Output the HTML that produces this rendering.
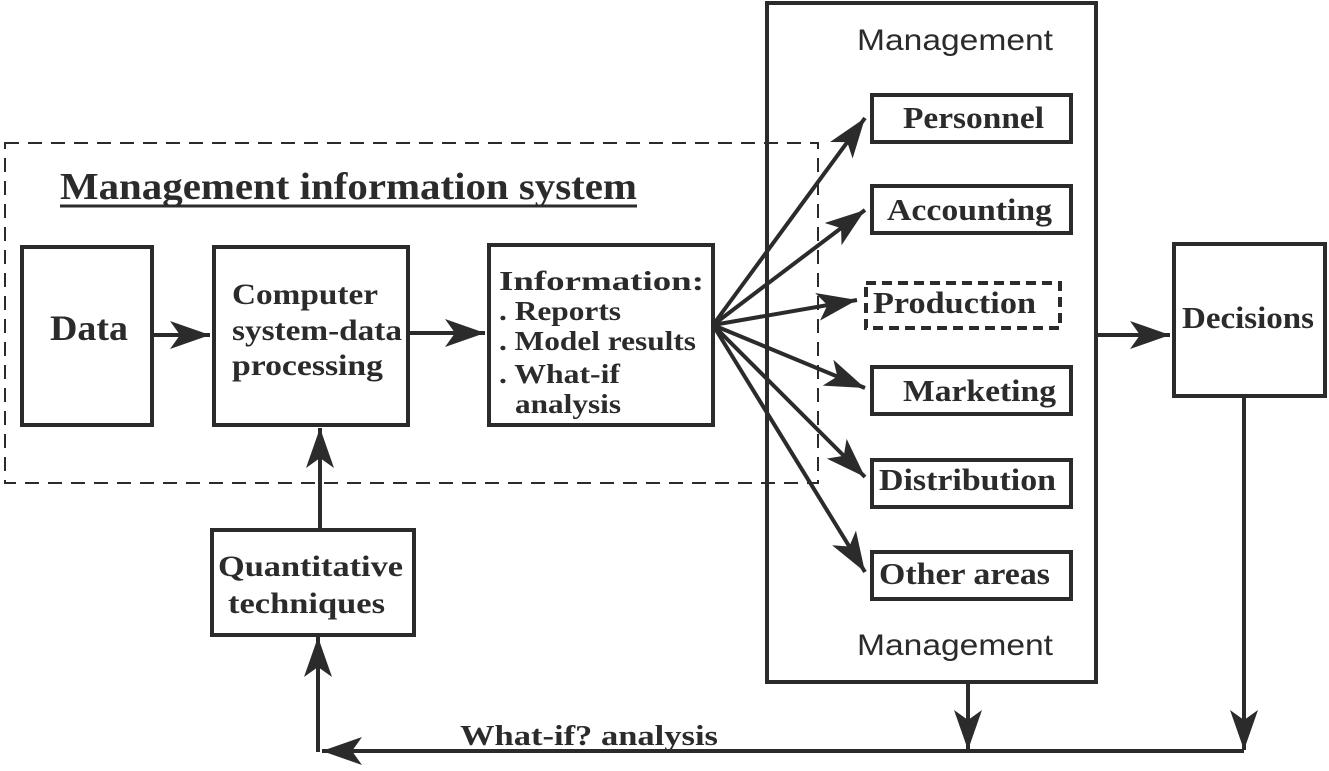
<!DOCTYPE html>
<html><head><meta charset="utf-8"><style>body{margin:0;background:#fff}svg{display:block}</style></head><body>
<svg width="1329" height="771" viewBox="0 0 1329 771" xmlns="http://www.w3.org/2000/svg">
<defs>
<marker id="a" markerUnits="userSpaceOnUse" markerWidth="50" markerHeight="40" refX="40" refY="14" orient="auto">
<path d="M40,14 L0,0 L10,14 L0,28 Z" fill="#2b2b2b"/>
</marker>
</defs>
<g fill="none" stroke="#2b2b2b" stroke-width="4">
<rect x="5" y="143" width="813" height="340" stroke-width="2" stroke-dasharray="14,9"/>
<rect x="22" y="247" width="130" height="178"/>
<rect x="214" y="247" width="194" height="178"/>
<rect x="489" y="245" width="224" height="180"/>
<rect x="767" y="3" width="329" height="679"/>
<rect x="872" y="95" width="199" height="47"/>
<rect x="872" y="186" width="199" height="47"/>
<rect x="866" y="283" width="194" height="45" stroke-dasharray="10,6"/>
<rect x="872" y="367" width="199" height="47"/>
<rect x="872" y="460" width="199" height="47"/>
<rect x="872" y="552" width="199" height="47"/>
<rect x="1174" y="244" width="151" height="152"/>
<rect x="212" y="530" width="202" height="105"/>
<line x1="152" y1="335" x2="210" y2="335" marker-end="url(#a)"/>
<line x1="408" y1="333" x2="485" y2="333" marker-end="url(#a)"/>
<line x1="713" y1="325" x2="865" y2="118" marker-end="url(#a)"/>
<line x1="713" y1="325" x2="865" y2="210" marker-end="url(#a)"/>
<line x1="713" y1="325" x2="857" y2="300" marker-end="url(#a)"/>
<line x1="713" y1="325" x2="865" y2="388" marker-end="url(#a)"/>
<line x1="713" y1="325" x2="865" y2="477" marker-end="url(#a)"/>
<line x1="713" y1="325" x2="865" y2="572" marker-end="url(#a)"/>
<line x1="1096" y1="335" x2="1170" y2="335" marker-end="url(#a)"/>
<line x1="1244" y1="396" x2="1244" y2="750" marker-end="url(#a)"/>
<line x1="968" y1="682" x2="968" y2="750" marker-end="url(#a)"/>
<line x1="1244" y1="751" x2="322" y2="751" marker-end="url(#a)"/>
<line x1="318" y1="752" x2="318" y2="637" marker-end="url(#a)"/>
<line x1="320" y1="530" x2="320" y2="428" marker-end="url(#a)"/>
<line x1="60" y1="206" x2="637" y2="206" stroke-width="3"/>
</g>
<g fill="#2b2b2b" font-family="Liberation Serif, serif" font-weight="bold">
<text x="60" y="199" font-size="38" textLength="577" lengthAdjust="spacingAndGlyphs">Management information system</text>
<text x="50" y="340" font-size="36" textLength="78" lengthAdjust="spacingAndGlyphs">Data</text>
<text x="232" y="304" font-size="30" textLength="146" lengthAdjust="spacingAndGlyphs">Computer</text>
<text x="232" y="340" font-size="30" textLength="170" lengthAdjust="spacingAndGlyphs">system-data</text>
<text x="232" y="375" font-size="30" textLength="151" lengthAdjust="spacingAndGlyphs">processing</text>
<text x="499" y="290" font-size="27" textLength="205" lengthAdjust="spacingAndGlyphs">Information:</text>
<text x="499" y="320" font-size="27" textLength="122" lengthAdjust="spacingAndGlyphs">. Reports</text>
<text x="499" y="350" font-size="27" textLength="197" lengthAdjust="spacingAndGlyphs">. Model results</text>
<text x="499" y="383" font-size="27" textLength="121" lengthAdjust="spacingAndGlyphs">. What-if</text>
<text x="515" y="413" font-size="27" textLength="106" lengthAdjust="spacingAndGlyphs">analysis</text>
<text x="903" y="128" font-size="31" textLength="141" lengthAdjust="spacingAndGlyphs">Personnel</text>
<text x="887" y="220" font-size="31" textLength="165" lengthAdjust="spacingAndGlyphs">Accounting</text>
<text x="873" y="313" font-size="31" textLength="163" lengthAdjust="spacingAndGlyphs">Production</text>
<text x="903" y="401" font-size="31" textLength="153" lengthAdjust="spacingAndGlyphs">Marketing</text>
<text x="879" y="490" font-size="31" textLength="177" lengthAdjust="spacingAndGlyphs">Distribution</text>
<text x="879" y="584" font-size="31" textLength="171" lengthAdjust="spacingAndGlyphs">Other areas</text>
<text x="1182" y="328" font-size="31" textLength="132" lengthAdjust="spacingAndGlyphs">Decisions</text>
<text x="218" y="576" font-size="30" textLength="185" lengthAdjust="spacingAndGlyphs">Quantitative</text>
<text x="228" y="613" font-size="30" textLength="157" lengthAdjust="spacingAndGlyphs">techniques</text>
<text x="460" y="745" font-size="29" textLength="258" lengthAdjust="spacingAndGlyphs">What-if?  analysis</text>
</g>
<g fill="#2b2b2b" font-family="Liberation Sans, sans-serif" font-size="30">
<text x="857" y="50" textLength="196" lengthAdjust="spacingAndGlyphs">Management</text>
<text x="857" y="655" textLength="196" lengthAdjust="spacingAndGlyphs">Management</text>
</g>
</svg>
</body></html>
